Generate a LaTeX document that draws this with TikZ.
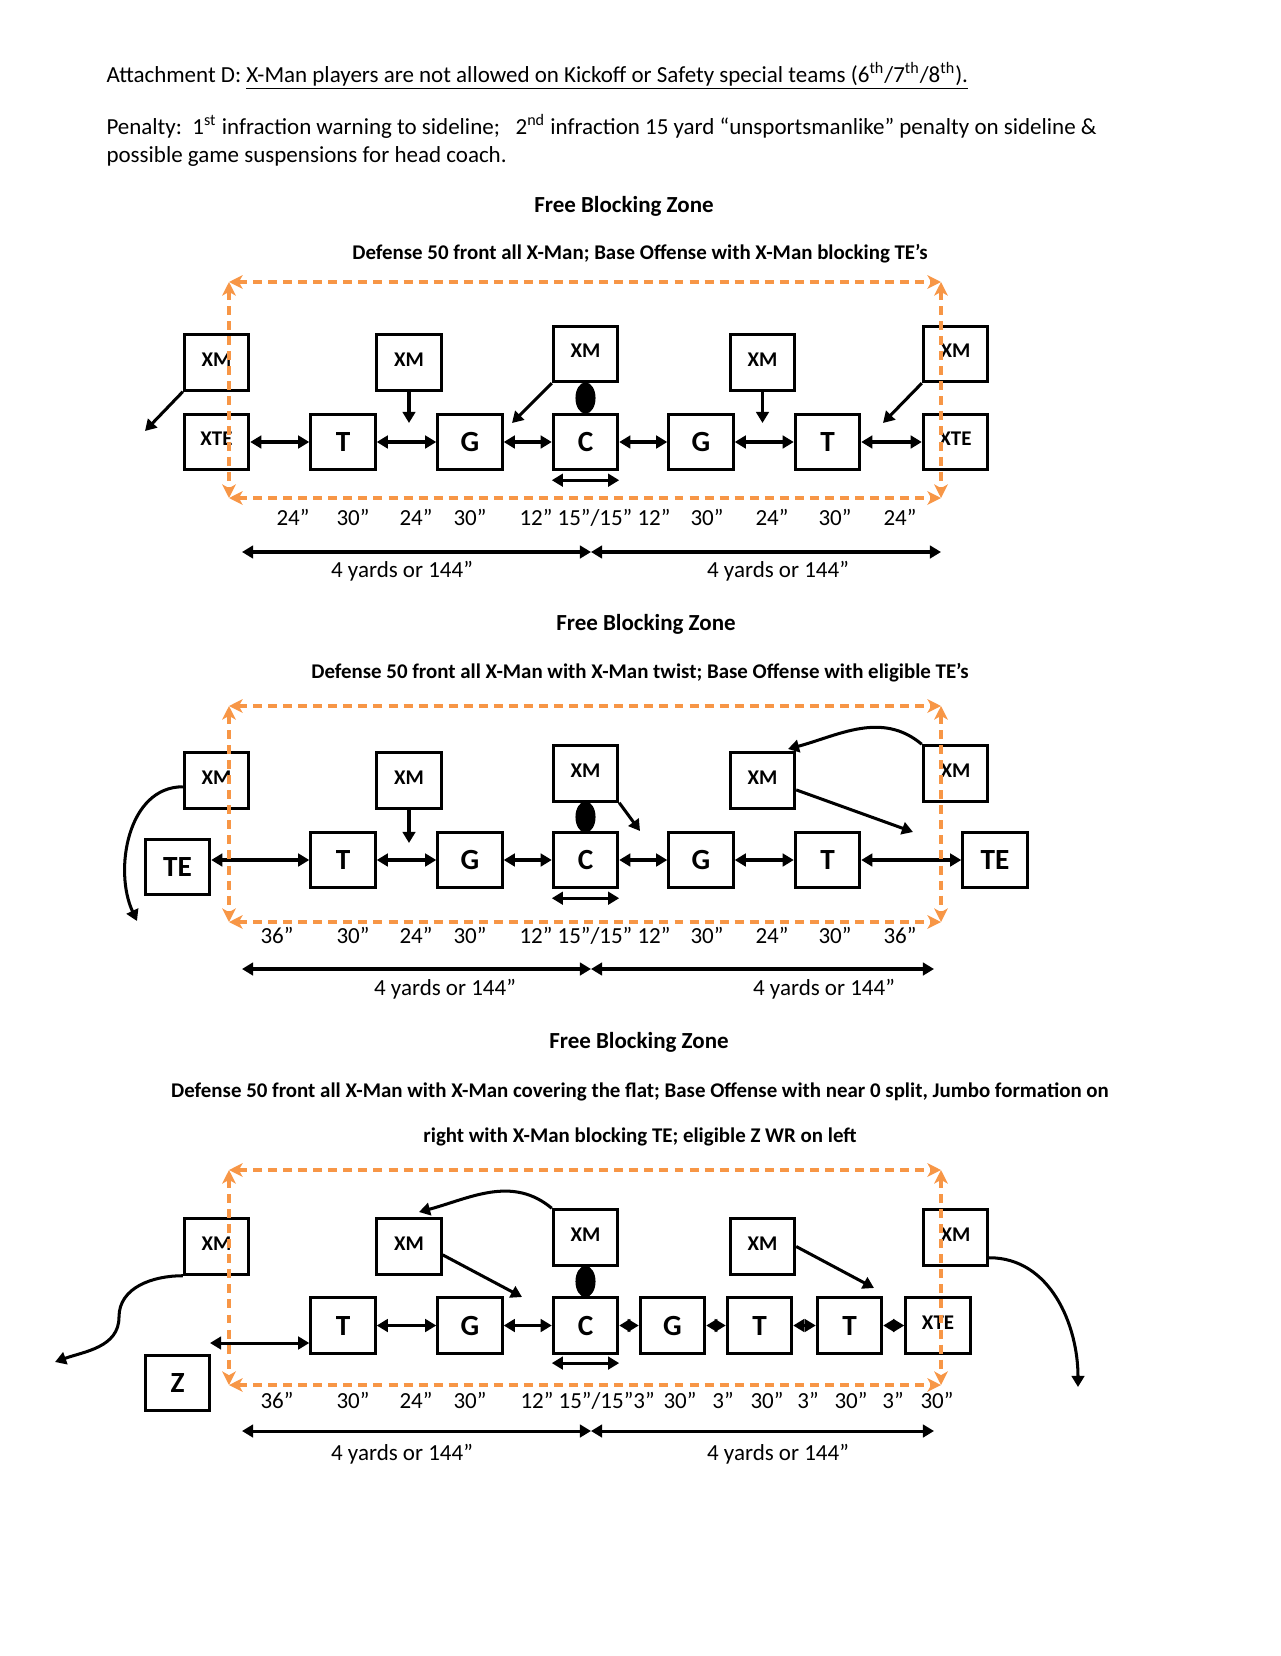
\documentclass[tikz,border=0pt]{standalone}
\usepackage{fontspec}
\setmainfont{Carlito}
\usetikzlibrary{arrows.meta, positioning, shapes.geometric}
\definecolor{zoneorange}{RGB}{247,150,70}

\begin{document}
\begin{tikzpicture}[x=0.4784pt,y=-0.4784pt,line width=1.45pt,>={Triangle[length=5.3pt,width=6pt]}]
  \tikzstyle{player}=[draw=black,minimum width=30.8pt,minimum height=26.5pt,inner sep=0pt,font=\bfseries\fontsize{14}{14}\selectfont]
  \tikzstyle{xman}=[player,font=\bfseries\fontsize{10}{10}\selectfont]
  \tikzstyle{xte}=[player,font=\bfseries\fontsize{10}{10}\selectfont]
  \tikzstyle{ball}=[ellipse,fill=black,minimum width=9.6pt,minimum height=15pt,inner sep=0pt]
  \tikzstyle{zone}=[draw=zoneorange,line width=1.6pt,dash pattern=on 4.3pt off 2.9pt,{Stealth[length=6.5pt,width=6.5pt,inset=1.8pt]}-{Stealth[length=6.5pt,width=6.5pt,inset=1.8pt]}]
  \tikzstyle{txt}=[inner sep=0pt,font=\fontsize{11}{13}\selectfont]
  \tikzstyle{zonetitle}=[inner sep=0pt,anchor=base,font=\bfseries\fontsize{11}{13}\selectfont]
  \tikzstyle{playtitle}=[inner sep=0pt,anchor=base,font=\bfseries\fontsize{10}{12}\selectfont]
  \tikzstyle{dim}=[inner sep=0pt,anchor=base,font=\fontsize{11}{13}\selectfont]

  \useasboundingbox (0,0) rectangle (1280,1656);

  % heading text
  \node[txt,anchor=base west] (rule) at (105,82) {Attachment D: \underline{X-Man players are not allowed on Kickoff or Safety special teams (6\textsuperscript{th}/7\textsuperscript{th}/8\textsuperscript{th}).}};
  \node[txt,anchor=base west] (pen1) at (105,134) {Penalty:\ \ 1\textsuperscript{st} infraction warning to sideline;\ \ \ 2\textsuperscript{nd} infraction 15 yard “unsportsmanlike” penalty on sideline \&};
  \node[txt,anchor=base west] (pen2) at (105,162) {possible game suspensions for head coach.};

  %%% first formation
  \node[zonetitle] (fbza) at (624,212) {Free Blocking Zone};
  \node[playtitle] (defa) at (640,259) {Defense 50 front all X-Man; Base Offense with X-Man blocking TE’s};

  \node[xman] (xma1) at (216.5,362.5) {\raisebox{3pt}{XM}};
  \node[xte] (xtea1) at (216.5,442) {\raisebox{3pt}{XTE}};
  \node[player] (ta1) at (343,442) {T};
  \node[xman] (xma2) at (409,362.5) {\raisebox{3pt}{XM}};
  \node[player] (ga1) at (470,442) {G};
  \node[xman] (xma3) at (585.5,354) {\raisebox{3pt}{XM}};
  \node[player] (ca) at (585.5,442) {C};
  \node[ball] (balla) at (585.5,398) {};
  \node[player] (ga2) at (701,442) {G};
  \node[xman] (xma4) at (762.5,362.5) {\raisebox{3pt}{XM}};
  \node[player] (ta2) at (827.5,442) {T};
  \node[xman] (xma5) at (955.5,354) {\raisebox{3pt}{XM}};
  \node[xte] (xtea2) at (955.5,442) {\raisebox{3pt}{XTE}};

  \path[<->] (xtea1) edge (ta1) (ta1) edge (ga1) (ga1) edge (ca)
             (ca) edge (ga2) (ga2) edge (ta2) (ta2) edge (xtea2);
  \draw[<->] ([yshift=-4.3pt]ca.south west) -- ([yshift=-4.3pt]ca.south east);

  \coordinate (pa1) at (145,431);
  \coordinate (pa2) at (409,423);
  \coordinate (pa3) at (512,423);
  \coordinate (pa4) at (762.5,423);
  \coordinate (pa5) at (883,423);
  \draw[->] (xma1.south west) -- (pa1);
  \draw[->] (xma2) -- (pa2);
  \draw[->] (xma3.south west) -- (pa3);
  \draw[->] (xma4) -- (pa4);
  \draw[->] (xma5.south west) -- (pa5);

  \node[dim] (da1) at (293,525) {24”};
  \node[dim] (da2) at (353,525) {30”};
  \node[dim] (da3) at (416,525) {24”};
  \node[dim] (da4) at (470,525) {30”};
  \node[dim] (da5) at (595,525) {12” 15”/15” 12”};
  \node[dim] (da6) at (707,525) {30”};
  \node[dim] (da7) at (772,525) {24”};
  \node[dim] (da8) at (835,525) {30”};
  \node[dim] (da9) at (900,525) {24”};

  \coordinate (ya1) at (242,552);
  \coordinate (ya2) at (591,552);
  \coordinate (ya3) at (941,552);
  \draw[<->] (ya1) -- (ya2);
  \draw[<->] (ya2) -- (ya3);
  \node[dim] (yda1) at (402,577) {4 yards or 144”};
  \node[dim] (yda2) at (778,577) {4 yards or 144”};

  \coordinate (za1) at (229,282);
  \coordinate (za2) at (941,282);
  \coordinate (za3) at (941,498);
  \coordinate (za4) at (229,498);
  \draw[zone] (za1) -- (za2);
  \draw[zone] (za4) -- (za3);
  \draw[zone] (za1) -- (za4);
  \draw[zone] (za2) -- (za3);

  %%% second formation
  \node[zonetitle] (fbzb) at (646,630) {Free Blocking Zone};
  \node[playtitle] (defb) at (640,678) {Defense 50 front all X-Man with X-Man twist; Base Offense with eligible TE’s};

  \node[xman] (xmb1) at (216.5,780.5) {\raisebox{3pt}{XM}};
  \node[player] (teb1) at (177.5,867) {TE};
  \node[player] (tb1) at (343,860) {T};
  \node[xman] (xmb2) at (409,780.5) {\raisebox{3pt}{XM}};
  \node[player] (gb1) at (470,860) {G};
  \node[xman] (xmb3) at (585.5,773.5) {\raisebox{3pt}{XM}};
  \node[player] (cb) at (585.5,860) {C};
  \node[ball] (ballb) at (585.5,817) {};
  \node[player] (gb2) at (701,860) {G};
  \node[xman] (xmb4) at (762.5,780.5) {\raisebox{3pt}{XM}};
  \node[player] (tb2) at (827.5,860) {T};
  \node[xman] (xmb5) at (955.5,773.5) {\raisebox{3pt}{XM}};
  \node[player] (teb2) at (995,860) {TE};

  \draw[<->] (teb1.east |- tb1) -- (tb1);
  \path[<->] (tb1) edge (gb1) (gb1) edge (cb) (cb) edge (gb2)
             (gb2) edge (tb2) (tb2) edge (teb2);
  \draw[<->] ([yshift=-4.3pt]cb.south west) -- ([yshift=-4.3pt]cb.south east);

  \coordinate (pb1) at (137,921);
  \coordinate (pb2) at (409,843);
  \coordinate (pb3) at (640,831);
  \coordinate (pb4) at (913,832);
  \coordinate (pb5) at (788,749);
  \draw[->] ([yshift=-3pt]xmb1.west) to[out=180,in=115] (pb1);
  \draw[->] (xmb2) -- (pb2);
  \draw[->] (xmb3.south east) -- (pb3);
  \draw[->] ([yshift=-4.5pt]xmb4.east) -- (pb4);
  \draw[->] (xmb5.north west) to[out=140,in=15] (pb5);

  \node[dim] (db1) at (277,943) {36”};
  \node[dim] (db2) at (353,943) {30”};
  \node[dim] (db3) at (416,943) {24”};
  \node[dim] (db4) at (470,943) {30”};
  \node[dim] (db5) at (595,943) {12” 15”/15” 12”};
  \node[dim] (db6) at (707,943) {30”};
  \node[dim] (db7) at (772,943) {24”};
  \node[dim] (db8) at (835,943) {30”};
  \node[dim] (db9) at (900,943) {36”};

  \coordinate (yb1) at (242,969);
  \coordinate (yb2) at (591,969);
  \coordinate (yb3) at (934,969);
  \draw[<->] (yb1) -- (yb2);
  \draw[<->] (yb2) -- (yb3);
  \node[dim] (ydb1) at (445,995) {4 yards or 144”};
  \node[dim] (ydb2) at (824,995) {4 yards or 144”};

  \coordinate (zb1) at (229,706);
  \coordinate (zb2) at (941,706);
  \coordinate (zb3) at (941,922);
  \coordinate (zb4) at (229,922);
  \draw[zone] (zb1) -- (zb2);
  \draw[zone] (zb4) -- (zb3);
  \draw[zone] (zb1) -- (zb4);
  \draw[zone] (zb2) -- (zb3);

  %%% third formation
  \node[zonetitle] (fbzc) at (639,1048) {Free Blocking Zone};
  \node[playtitle] (defc1) at (640,1097) {Defense 50 front all X-Man with X-Man covering the flat; Base Offense with near 0 split, Jumbo formation on};
  \node[playtitle] (defc2) at (640,1142) {right with X-Man blocking TE; eligible Z WR on left};

  \node[xman] (xmc1) at (216.5,1246.5) {\raisebox{3pt}{XM}};
  \node[player] (zc) at (177.5,1383) {Z};
  \node[player] (tc1) at (343,1325.5) {T};
  \node[xman] (xmc2) at (409,1246.5) {\raisebox{3pt}{XM}};
  \node[player] (gc1) at (470,1325.5) {G};
  \node[xman] (xmc3) at (585.5,1237.5) {\raisebox{3pt}{XM}};
  \node[player] (cc) at (585.5,1325.5) {C};
  \node[ball] (ballc) at (585.5,1281.5) {};
  \node[player] (gc2) at (672.5,1325.5) {G};
  \node[player] (tc2) at (759.5,1325.5) {T};
  \node[player] (tc3) at (849.5,1325.5) {T};
  \node[xte] (xtec) at (938,1325.5) {\raisebox{3pt}{XTE}};
  \node[xman] (xmc4) at (762.5,1246.5) {\raisebox{3pt}{XM}};
  \node[xman] (xmc5) at (955.5,1237.5) {\raisebox{3pt}{XM}};

  \coordinate (lc) at (210,1343);
  \draw[<->] (lc) -- (lc -| tc1.west);
  \path[<->] (tc1) edge (gc1) (gc1) edge (cc) (cc) edge (gc2)
             (gc2) edge (tc2) (tc2) edge (tc3) (tc3) edge (xtec);
  \draw[<->] ([yshift=-4pt]cc.south west) -- ([yshift=-4pt]cc.south east);

  \coordinate (qc1) at (119,1317);
  \coordinate (pc1) at (55,1362);
  \coordinate (pc2) at (522,1297);
  \coordinate (pc3) at (419,1212);
  \coordinate (pc4) at (874,1288);
  \coordinate (pc5) at (1078,1387);
  \draw[->] (xmc1.south west) to[out=180,in=90] (qc1) to[out=-90,in=20] (pc1);
  \draw[->] ([yshift=-4pt]xmc2.east) -- (pc2);
  \draw[->] (xmc3.north west) to[out=140,in=15] (pc3);
  \draw[->] (xmc4.east) -- (pc4);
  \draw[->] ([yshift=4.3pt]xmc5.south east) to[out=0,in=90] (pc5);

  \node[dim] (dc1) at (277,1408) {36”};
  \node[dim] (dc2) at (353,1408) {30”};
  \node[dim] (dc3) at (416,1408) {24”};
  \node[dim] (dc4) at (470,1408) {30”};
  \node[dim,anchor=base west] (dc5) at (519,1408) {12” 15”/15”3”};
  \node[dim] (dc6) at (680,1408) {30”};
  \node[dim] (dc7) at (723,1408) {3”};
  \node[dim] (dc8) at (767,1408) {30”};
  \node[dim] (dc9) at (808,1408) {3”};
  \node[dim] (dc10) at (851,1408) {30”};
  \node[dim] (dc11) at (893,1408) {3”};
  \node[dim] (dc12) at (937,1408) {30”};

  \coordinate (yc1) at (242,1431);
  \coordinate (yc2) at (591,1431);
  \coordinate (yc3) at (934,1431);
  \draw[<->] (yc1) -- (yc2);
  \draw[<->] (yc2) -- (yc3);
  \node[dim] (ydc1) at (402,1460) {4 yards or 144”};
  \node[dim] (ydc2) at (778,1460) {4 yards or 144”};

  \coordinate (zc1) at (229,1170);
  \coordinate (zc2) at (941,1170);
  \coordinate (zc3) at (941,1385);
  \coordinate (zc4) at (229,1385);
  \draw[zone] (zc1) -- (zc2);
  \draw[zone] (zc4) -- (zc3);
  \draw[zone] (zc1) -- (zc4);
  \draw[zone] (zc2) -- (zc3);
\end{tikzpicture}
\end{document}
